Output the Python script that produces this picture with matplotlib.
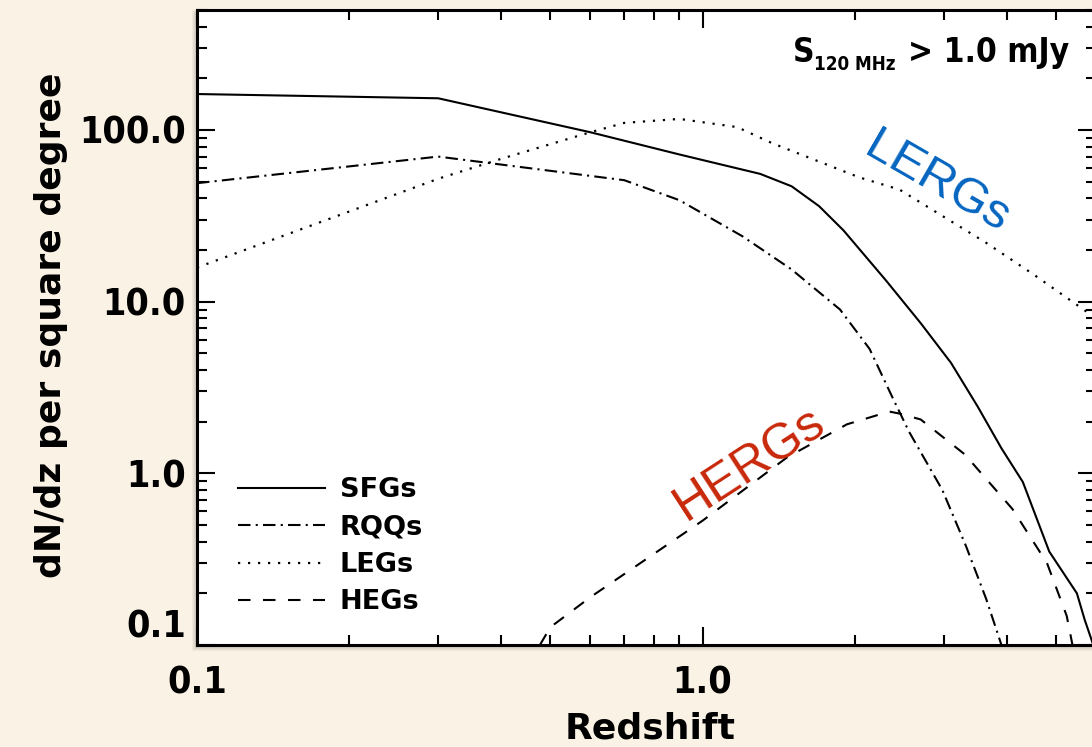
import matplotlib
matplotlib.use('Agg')
import matplotlib.pyplot as plt
from matplotlib.patches import Rectangle
from matplotlib.transforms import IdentityTransform
from matplotlib.ticker import FixedLocator, LogLocator, NullFormatter

# redshift distributions, dN/dz per square degree
sfg_z = [0.1, 0.3, 0.6, 0.9, 1.3, 1.5, 1.7, 1.9, 2.3, 2.7, 3.1, 3.5, 3.9, 4.3, 4.85, 5.5, 5.7, 6.0]
sfg_n = [162, 153, 97, 72, 55.5, 47, 36, 26, 13.4, 7.5, 4.4, 2.45, 1.4, 0.89, 0.35, 0.2, 0.14, 0.09]

rqq_z = [0.1, 0.3, 0.7, 0.9, 1.2, 1.5, 1.87, 2.14, 2.37, 2.56, 2.98, 3.32, 3.64, 4.0]
rqq_n = [49, 70, 51, 39, 24, 15.4, 9.0, 5.3, 2.8, 1.75, 0.8, 0.376, 0.185, 0.08]

leg_z = [0.1, 0.3, 0.4, 0.6, 0.7, 0.9, 1.17, 1.37, 2.04, 2.45, 3.64, 4.5, 6.0]
leg_n = [15.8, 52, 68, 97, 110, 116, 104, 84, 53, 45, 22, 14.5, 8.0]

heg_z = [0.45, 0.5, 0.6, 1.0, 1.47, 1.93, 2.34, 2.45, 2.7, 3.3, 4.1, 4.8, 5.25, 5.45]
heg_n = [0.075, 0.127, 0.19, 0.53, 1.24, 1.93, 2.29, 2.23, 2.06, 1.29, 0.62, 0.30, 0.148, 0.085]

series_labels = ['SFGs', 'RQQs', 'LEGs', 'HEGs']
xticks = [0.1, 1.0]
xticklabels = ['0.1', '1.0']
yticks = [0.1, 1.0, 10.0, 100.0]
yticklabels = ['0.1', '1.0', '10.0', '100.0']

W, H = 1092, 747
bg = '#faf2e4'

fig = plt.figure(figsize=(W / 100, H / 100), dpi=100, facecolor=bg)
x0, y0, x1, y1 = 197, 102, 1096, 737
ax = fig.add_axes([x0 / W, y0 / H, (x1 - x0) / W, (y1 - y0) / H])
ax.set_facecolor('white')

# soft drop shadow, mostly below the plot box
for k in range(6, 0, -1):
    fig.add_artist(Rectangle((x0 + 1 - k, y0 - 6 - k + 6), (x1 - x0) + 2 * k, (y1 - y0) - 6 + 2 * k,
                             transform=IdentityTransform(), facecolor='black',
                             edgecolor='none', alpha=0.04, zorder=-1))

lw = 1.5
ax.plot(sfg_z, sfg_n, color='black', lw=lw, label=series_labels[0])
ax.plot(rqq_z, rqq_n, color='black', lw=lw, linestyle=(0, (6, 2.5, 1, 2.5)),
        dash_capstyle='butt', label=series_labels[1])
ax.plot(leg_z, leg_n, color='black', lw=1.6, linestyle=(0, (1, 3.5)),
        dash_capstyle='butt', label=series_labels[2])
ax.plot(heg_z, heg_n, color='black', lw=lw, linestyle=(0, (6, 6)),
        dash_capstyle='butt', label=series_labels[3])

ax.set_xscale('log')
ax.set_yscale('log')
ax.set_xlim(0.1, 6.0)
ax.set_ylim(0.1, 500)

tick_font = dict(fontsize=27, fontweight='bold', fontstretch='condensed')
ax.xaxis.set_major_locator(FixedLocator(xticks))
ax.xaxis.set_minor_locator(LogLocator(base=10, subs=range(2, 10)))
ax.xaxis.set_minor_formatter(NullFormatter())
ax.set_xticklabels(xticklabels, **tick_font)
ax.yaxis.set_major_locator(FixedLocator(yticks))
ax.yaxis.set_minor_locator(LogLocator(base=10, subs=range(2, 10)))
ax.yaxis.set_minor_formatter(NullFormatter())
ax.set_yticklabels(yticklabels, **tick_font)
# keep the lowest y label inside the box
ax.get_yticklabels()[0].set_va('bottom')

ax.tick_params(which='both', direction='in', top=True, right=True, width=1.5, color='black')
ax.tick_params(which='major', length=13)
ax.tick_params(which='minor', length=7)
ax.tick_params(axis='x', which='major', pad=15)
ax.tick_params(axis='y', which='major', pad=8)
for s in ax.spines.values():
    s.set_linewidth(2.2)

ax.set_xlabel('Redshift', fontsize=26, fontweight='bold', va='top')
ax.xaxis.set_label_coords(0.504, -0.105)
ax.set_ylabel('dN/dz per square degree', fontsize=26, fontweight='bold')
ax.yaxis.set_label_coords(-0.143, 0.504)

ax.legend(loc='upper left', bbox_to_anchor=(0.0456, 0.264), frameon=False,
          borderpad=0, borderaxespad=0, handlelength=3.2, handletextpad=0.55,
          labelspacing=0.42, prop={'weight': 'bold', 'size': 19.5})

# class labels
ax.text(2.91, 49.2, 'LERGs', color='#0565c0', fontsize=35.5, family='Liberation Sans',
        rotation=-30, ha='center', va='center', rotation_mode='anchor')
ax.text(1.24, 1.13, 'HERGs', color='#c8280a', fontsize=36, family='Liberation Sans',
        rotation=33, ha='center', va='center', rotation_mode='anchor')

# flux limit
def px(x, y):
    return x / W, 1 - y / H

fig.text(*px(793, 62), 'S', fontsize=24, fontweight='bold', fontstretch='condensed',
         ha='left', va='baseline')
fig.text(*px(814, 70), '120 MHz', fontsize=13.5, fontweight='bold', fontstretch='condensed',
         ha='left', va='baseline')
fig.text(*px(908, 62), '> 1.0 mJy', fontsize=24, fontweight='bold', fontstretch='condensed',
         ha='left', va='baseline')

fig.savefig('out.png', dpi=100, facecolor=fig.get_facecolor())
